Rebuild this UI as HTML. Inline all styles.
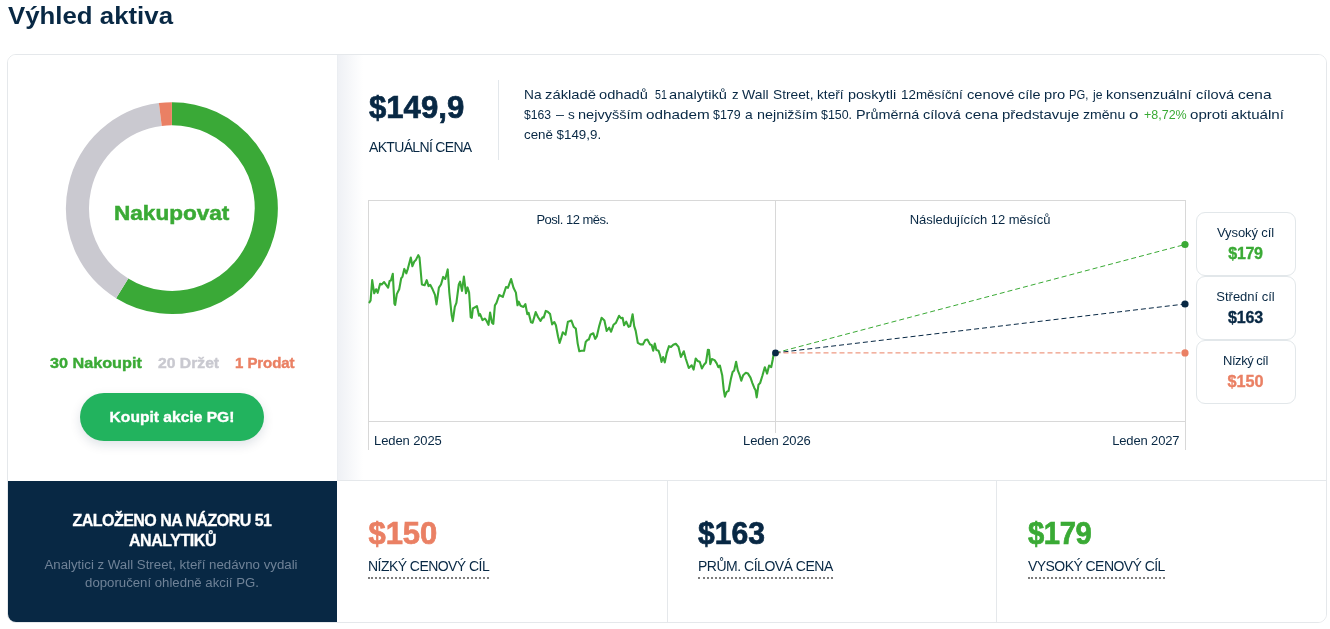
<!DOCTYPE html>
<html lang="cs">
<head>
<meta charset="utf-8">
<title>Výhled aktiva</title>
<style>
*{box-sizing:border-box;margin:0;padding:0}
html,body{width:1330px;height:629px;overflow:hidden;background:#fff}
body{font-family:"Liberation Sans",sans-serif;color:#082844;position:relative}
.abs{position:absolute;white-space:nowrap}
h1{position:absolute;left:8px;top:0;font-size:24px;line-height:32px;font-weight:700;color:#082844;white-space:nowrap}
.card{position:absolute;left:7px;top:54px;width:1320px;height:569px;border:1px solid #e5e8eb;border-radius:9px;background:#fff;overflow:hidden}
.left{position:absolute;left:0;top:0;width:329px;height:426px;background:#fff}
.right{position:absolute;left:329px;top:0;width:990px;height:426px;background:linear-gradient(90deg,#e9ecf0 0,#eff1f5 1.5px,#fff 26px)}
.dark{position:absolute;left:0;top:426px;width:329px;height:142px;background:#082844;color:#fff;text-align:center}
.cell{position:absolute;top:425px;height:143px;border-top:1px solid #e5e8eb;border-left:1px solid #e5e8eb;background:#fff}
.big{position:absolute;font-weight:700;font-size:31px;line-height:36px;white-space:nowrap;-webkit-text-stroke:0.7px currentColor}
.lbl{position:absolute;font-size:14px;line-height:18px;white-space:nowrap;color:#082844;border-bottom:2px dotted #7d7d7d;padding-bottom:2px}
.green{color:#3aaa35}.red{color:#ea8064}.navy{color:#082844}.gray{color:#c9c9d0}
.tbox{position:absolute;left:1196px;width:100px;height:64px;border:1px solid #e2e7ea;border-radius:9px;background:#fff;text-align:center}
.tbox .t{position:absolute;left:-1px;right:0;top:12.2px;font-size:13px;line-height:16px;color:#082844}
.tbox .v{position:absolute;left:-1px;right:0;top:30.5px;font-size:16px;line-height:20px;font-weight:700;-webkit-text-stroke:0.35px currentColor}
.w{position:absolute;white-space:pre;font-size:13px;line-height:20px;transform-origin:left center}
.ax{position:absolute;font-size:13px;line-height:16px;color:#082844;white-space:nowrap}
</style>
</head>
<body>
<h1 id="h1" style="letter-spacing:0px;transform:scaleX(1.0755);transform-origin:left">Výhled aktiva</h1>
<div class="card">
  <div class="left"></div>
  <div class="right"></div>
  <div class="dark"></div>
  <div class="cell" style="left:329px;width:330px;border-left:none"></div>
  <div class="cell" style="left:659px;width:329px"></div>
  <div class="cell" style="left:988px;width:331px"></div>
</div>

<!-- donut -->
<svg class="abs" style="left:0;top:0" width="1330" height="629" viewBox="0 0 1330 629">
  <g fill="none" stroke-width="23.1">
    <path d="M171.90 113.70A94.4 94.4 0 1 1 122.20 288.36" stroke="#3aa937"/>
    <path d="M122.20 288.36A94.4 94.4 0 0 1 160.30 114.42" stroke="#cac9d0"/>
    <path d="M160.30 114.42A94.4 94.4 0 0 1 171.90 113.70" stroke="#ea8064"/>
  </g>
  <!-- chart frame -->
  <g stroke="#d8d8d8" stroke-width="1" fill="none" shape-rendering="crispEdges">
    <path d="M368.5 449.5V200.5H1185.5V449.5"/>
    <path d="M368.5 421.5H1185.5"/>
    <path d="M775.5 200.5V433"/>
  </g>
  <polyline points="369.5,302.3 370.6,300.4 372.2,280.1 374.2,293.3 376.1,289.3 377.7,292.8 380.1,283.7 381.7,284.5 384.1,282.1 388.1,287.7 389.6,281.0 390.9,280.5 392.8,273.7 394.4,303.6 395.2,304.9 396.8,294.1 399.2,289.3 401.2,278.2 402.4,276.9 404.3,268.9 406.3,273.4 407.9,268.6 410.8,257.5 412.4,266.2 414.3,261.5 415.9,259.9 418.3,255.1 419.5,257.5 421.9,284.5 424.6,285.3 426.7,280.1 428.6,286.1 430.2,284.8 432.6,289.3 435.0,294.8 436.5,304.4 438.9,287.7 441.0,284.5 443.2,276.9 445.3,279.0 447.7,269.4 449.3,292.5 451.6,314.7 452.8,321.1 454.8,306.8 456.4,302.8 458.8,284.5 460.1,281.7 462.0,290.9 463.9,276.6 466.0,293.3 467.5,287.4 469.1,292.5 470.7,317.1 471.8,317.9 472.9,308.5 476.9,306.1 479.0,315.6 480.1,314.1 482.5,320.1 484.9,318.5 486.5,320.7 488.5,324.9 490.1,312.5 492.0,322.8 493.3,323.9 494.9,305.3 496.5,302.9 499.2,295.0 502.8,296.9 506.0,287.0 507.9,287.8 511.1,279.1 513.5,287.8 515.9,292.6 517.5,305.3 518.7,301.7 520.6,305.8 523.5,306.9 525.4,304.2 527.3,314.1 528.6,312.8 531.0,322.3 532.6,322.8 535.7,312.1 538.1,317.2 540.5,320.9 542.6,317.2 543.7,317.6 545.8,310.9 547.7,311.7 550.1,314.1 552.1,324.4 554.3,322.0 555.9,325.2 558.0,336.3 559.6,343.0 561.2,337.9 562.8,332.3 565.5,334.7 567.9,321.7 569.5,321.3 571.4,320.5 573.7,326.9 575.8,328.5 577.7,343.6 579.3,351.2 581.7,350.7 584.1,350.7 585.7,342.0 587.3,340.1 588.8,339.6 590.4,334.8 593.3,333.3 595.2,338.8 596.8,336.4 599.2,326.1 601.6,317.8 604.4,320.5 606.7,330.9 609.2,327.7 611.1,331.7 613.5,324.8 615.9,322.9 619.1,315.8 621.0,318.2 622.6,317.8 624.1,325.3 626.2,321.7 628.6,326.9 630.2,326.1 632.6,314.2 634.2,326.1 635.7,330.9 637.8,342.8 640.5,344.4 642.9,344.4 645.3,340.1 647.4,339.6 650.1,344.4 651.6,344.9 653.2,350.7 654.8,343.6 656.4,350.0 658.5,350.7 660.1,355.5 661.5,361.9 663.1,357.1 664.8,362.4 666.7,353.1 669.0,346.2 671.0,346.9 673.3,344.7 675.8,343.7 678.5,346.9 680.9,356.9 683.8,351.3 685.7,358.5 688.8,368.0 691.7,365.3 693.6,369.6 695.7,358.5 697.6,360.9 699.7,361.7 701.9,368.5 704.0,364.8 706.0,362.5 707.9,349.7 709.0,350.1 710.3,364.1 711.9,359.0 714.6,360.1 716.7,363.3 718.3,367.2 719.9,365.6 722.2,375.2 723.8,390.3 724.9,396.6 726.7,391.9 728.6,390.8 731.0,378.4 732.6,372.0 734.2,370.4 736.1,361.7 737.8,370.4 739.7,375.2 741.3,380.7 743.2,375.2 745.8,372.8 748.0,373.6 750.5,377.6 752.4,383.1 754.3,387.9 755.6,390.3 756.7,397.4 758.5,384.7 760.1,383.1 762.3,376.0 764.8,367.2 767.1,373.6 769.1,365.6 771.2,367.2 772.8,359.3 773.9,352.9 775.5,352.9" fill="none" stroke="#3aaa35" stroke-width="2.1" stroke-linejoin="round" stroke-linecap="round"/>
  <g fill="none" stroke-width="1" stroke-dasharray="5 3">
    <path d="M775.5 352.9L1185 244.5" stroke="#3aaa35"/>
    <path d="M775.5 352.9L1185 304" stroke="#082844"/>
    <path d="M775.5 352.9L1185 352.9" stroke="#ea8064"/>
  </g>
  <circle cx="775.5" cy="352.9" r="3.4" fill="#082844"/>
  <circle cx="1185" cy="244.5" r="3.6" fill="#3aaa35"/>
  <circle cx="1185" cy="304" r="3.6" fill="#082844"/>
  <circle cx="1185" cy="352.9" r="3.6" fill="#ea8064"/>
</svg>

<div class="abs green" id="nak" style="letter-spacing:0px;left:114.2px;top:197.4px;font-size:20px;line-height:32px;font-weight:700;transform:scaleX(1.128);transform-origin:left;-webkit-text-stroke:0.5px currentColor">Nakupovat</div>

<div class="abs green" id="c1" style="letter-spacing:0px;left:50px;top:353px;font-size:15px;line-height:20px;font-weight:700;transform:scaleX(1.0796);transform-origin:left;-webkit-text-stroke:0.4px currentColor">30 Nakoupit</div>
<div class="abs gray" id="c2" style="letter-spacing:0px;left:158px;top:353px;font-size:15px;line-height:20px;font-weight:700;transform:scaleX(1.0470);transform-origin:left;-webkit-text-stroke:0.4px currentColor">20 Držet</div>
<div class="abs red" id="c3" style="letter-spacing:-0.06px;left:235px;top:353px;font-size:15px;line-height:20px;font-weight:700;transform:none;-webkit-text-stroke:0.4px currentColor">1 Prodat</div>

<div class="abs" id="btn" style="left:80px;top:393px;width:184px;height:48px;border-radius:24px;background:#22b35e;box-shadow:0 4px 11px rgba(8,40,68,.13);color:#fff;text-align:center;font-size:15px;line-height:48px;font-weight:700"><span id="btnt" style="letter-spacing:0px;transform:scaleX(1.04);transform-origin:center;display:inline-block;-webkit-text-stroke:0.35px currentColor">Koupit akcie PG!</span></div>

<div class="abs" id="d1" style="letter-spacing:-0.53px;left:7px;width:330px;top:510.5px;text-align:center;color:#fff;font-size:16px;line-height:20px;font-weight:700;transform:none;-webkit-text-stroke:0.3px currentColor">ZALOŽENO NA NÁZORU 51</div>
<div class="abs" id="d2" style="letter-spacing:-0.42px;left:7.5px;width:330px;top:530.5px;text-align:center;color:#fff;font-size:16px;line-height:20px;font-weight:700;transform:none;-webkit-text-stroke:0.3px currentColor">ANALYTIKŮ</div>
<div class="abs" id="d3" style="letter-spacing:0px;left:6.3px;width:330px;top:556px;text-align:center;color:#6f8297;font-size:12px;line-height:18px;transform:scaleX(1.1053);transform-origin:center">Analytici z Wall Street, kteří nedávno vydali</div>
<div class="abs" id="d4" style="letter-spacing:0px;left:6.6px;width:330px;top:574px;text-align:center;color:#6f8297;font-size:12px;line-height:18px;transform:scaleX(1.0992);transform-origin:center">doporučení ohledně akcií PG.</div>

<div class="big navy" id="p0" style="letter-spacing:0px;left:369px;top:89.8px;transform:scaleX(1.0039);transform-origin:left">$149,9</div>
<div class="abs navy" id="p0l" style="letter-spacing:-0.67px;left:369px;top:138px;font-size:14px;line-height:18px;transform:none">AKTUÁLNÍ CENA</div>
<div class="abs" style="left:498px;top:80px;width:1px;height:80px;background:#e3e7eb"></div>

<div><span class="w" id="u0" style="left:524.1px;top:85.3px;transform:scaleX(1.0526)">Na</span> <span class="w" id="u1" style="left:544.8px;top:85.3px;transform:scaleX(1.1403)">základě</span> <span class="w" id="u2" style="left:599.1px;top:85.3px;transform:scaleX(1.1270)">odhadů</span> <span class="w" id="u3" style="left:654.7px;top:85.3px;transform:scaleX(0.8225)">51</span> <span class="w" id="u4" style="left:669.3px;top:85.3px;transform:scaleX(1.1284)">analytiků</span> <span class="w" id="u5" style="left:731.9px;top:85.3px;transform:scaleX(1.0154)">z</span> <span class="w" id="u6" style="left:741.7px;top:85.3px;transform:scaleX(1.0727)">Wall</span> <span class="w" id="u7" style="left:773.1px;top:85.3px;transform:scaleX(1.0575)">Street,</span> <span class="w" id="u8" style="left:817.3px;top:85.3px;transform:scaleX(1.0515)">kteří</span> <span class="w" id="u9" style="left:848.1px;top:85.3px;transform:scaleX(1.1093)">poskytli</span> <span class="w" id="u10" style="left:900.8px;top:85.3px;transform:scaleX(1.0303)">12měsíční</span> <span class="w" id="u11" style="left:966.5px;top:85.3px;transform:scaleX(1.1307)">cenové</span> <span class="w" id="u12" style="left:1018.0px;top:85.3px;transform:scaleX(1.1120)">cíle</span> <span class="w" id="u13" style="left:1044.2px;top:85.3px;transform:scaleX(1.1332)">pro</span> <span class="w" id="u14" style="left:1069.1px;top:85.3px;transform:scaleX(0.8614)">PG,</span> <span class="w" id="u15" style="left:1092.6px;top:85.3px;transform:scaleX(0.9383)">je</span> <span class="w" id="u16" style="left:1106.3px;top:85.3px;transform:scaleX(1.1158)">konsenzuální</span> <span class="w" id="u17" style="left:1195.5px;top:85.3px;transform:scaleX(1.1187)">cílová</span> <span class="w" id="u18" style="left:1237.5px;top:85.3px;transform:scaleX(1.1878)">cena</span></div>
<div><span class="w" id="v0" style="left:524.3px;top:105.3px;transform:scaleX(0.9370)">$163</span> <span class="w" id="v1" style="left:555.6px;top:105.3px;transform:scaleX(1.1058)">–</span> <span class="w" id="v2" style="left:567.5px;top:105.3px;transform:scaleX(1.0462)">s</span> <span class="w" id="v3" style="left:578.1px;top:105.3px;transform:scaleX(1.1194)">nejvyšším</span> <span class="w" id="v4" style="left:645.9px;top:105.3px;transform:scaleX(1.1749)">odhadem</span> <span class="w" id="v5" style="left:713.3px;top:105.3px;transform:scaleX(0.9543)">$179</span> <span class="w" id="v6" style="left:744.9px;top:105.3px;transform:scaleX(1.0644)">a</span> <span class="w" id="v7" style="left:756.8px;top:105.3px;transform:scaleX(1.1052)">nejnižším</span> <span class="w" id="v8" style="left:821.2px;top:105.3px;transform:scaleX(0.9525)">$150.</span> <span class="w" id="v9" style="left:855.9px;top:105.3px;transform:scaleX(1.1073)">Průměrná</span> <span class="w" id="v10" style="left:923.2px;top:105.3px;transform:scaleX(1.1157)">cílová</span> <span class="w" id="v11" style="left:965.0px;top:105.3px;transform:scaleX(1.1772)">cena</span> <span class="w" id="v12" style="left:1002.4px;top:105.3px;transform:scaleX(1.1485)">představuje</span> <span class="w" id="v13" style="left:1082.8px;top:105.3px;transform:scaleX(1.0837)">změnu</span> <span class="w" id="v14" style="left:1128.8px;top:105.3px;transform:scaleX(1.3132)">o</span> <span class="w green" id="v15" style="left:1143.9px;top:105.3px;transform:scaleX(0.9606)">+8,72%</span> <span class="w" id="v16" style="left:1190.0px;top:105.3px;transform:scaleX(1.1589)">oproti</span> <span class="w" id="v17" style="left:1231.4px;top:105.3px;transform:scaleX(1.1636)">aktuální</span></div>
<div class="abs navy" id="t3" style="letter-spacing:0px;left:524px;top:125.3px;font-size:13px;line-height:20px;transform:scaleX(1.0254);transform-origin:left">ceně $149,9.</div>

<div class="ax" id="a1" style="letter-spacing:-0.5px;left:472.6px;width:200px;text-align:center;top:212px;transform:none">Posl. 12 měs.</div>
<div class="ax" id="a2" style="letter-spacing:-0.04px;left:880px;width:200px;text-align:center;top:212px;transform:none">Následujících 12 měsíců</div>
<div class="ax" id="a3" style="letter-spacing:-0.1px;left:374px;top:433px;transform:none">Leden 2025</div>
<div class="ax" id="a4" style="letter-spacing:-0.1px;left:741px;top:433px;transform:none;background:#fff;padding:0 2px">Leden 2026</div>
<div class="ax" id="a5" style="letter-spacing:-0.15px;left:1112.2px;top:433px;transform:none">Leden 2027</div>

<div class="tbox" style="top:212px"><div class="t" id="bt1" style="letter-spacing:-0.11px;transform:none">Vysoký cíl</div><div class="v green" id="bv1" style="letter-spacing:-0.33px;transform:none">$179</div></div>
<div class="tbox" style="top:276px"><div class="t" id="bt2" style="letter-spacing:-0.02px;transform:none">Střední cíl</div><div class="v navy" id="bv2" style="letter-spacing:-0.13px;transform:none">$163</div></div>
<div class="tbox" style="top:340px"><div class="t" id="bt3" style="letter-spacing:-0.47px;transform:none">Nízký cíl</div><div class="v red" id="bv3" style="letter-spacing:0px;transform:scaleX(1.0142);transform-origin:center">$150</div></div>

<div class="big red" id="b1" style="letter-spacing:-0.12px;left:368.6px;top:516px;transform:none;transform-origin:left">$150</div>
<div class="lbl" id="l1" style="letter-spacing:-0.55px;left:368px;top:557px;transform:none">NÍZKÝ CENOVÝ CÍL</div>
<div class="big navy" id="b2" style="letter-spacing:0px;left:698px;top:516px;transform:scaleX(0.971);transform-origin:left">$163</div>
<div class="lbl" id="l2" style="letter-spacing:-0.49px;left:698px;top:557px;transform:none">PRŮM. CÍLOVÁ CENA</div>
<div class="big green" id="b3" style="letter-spacing:-0.4px;left:1027.8px;top:516px;transform:scaleX(0.942);transform-origin:left">$179</div>
<div class="lbl" id="l3" style="letter-spacing:-0.56px;left:1028px;top:557px;transform:none">VYSOKÝ CENOVÝ CÍL</div>
</body>
</html>
